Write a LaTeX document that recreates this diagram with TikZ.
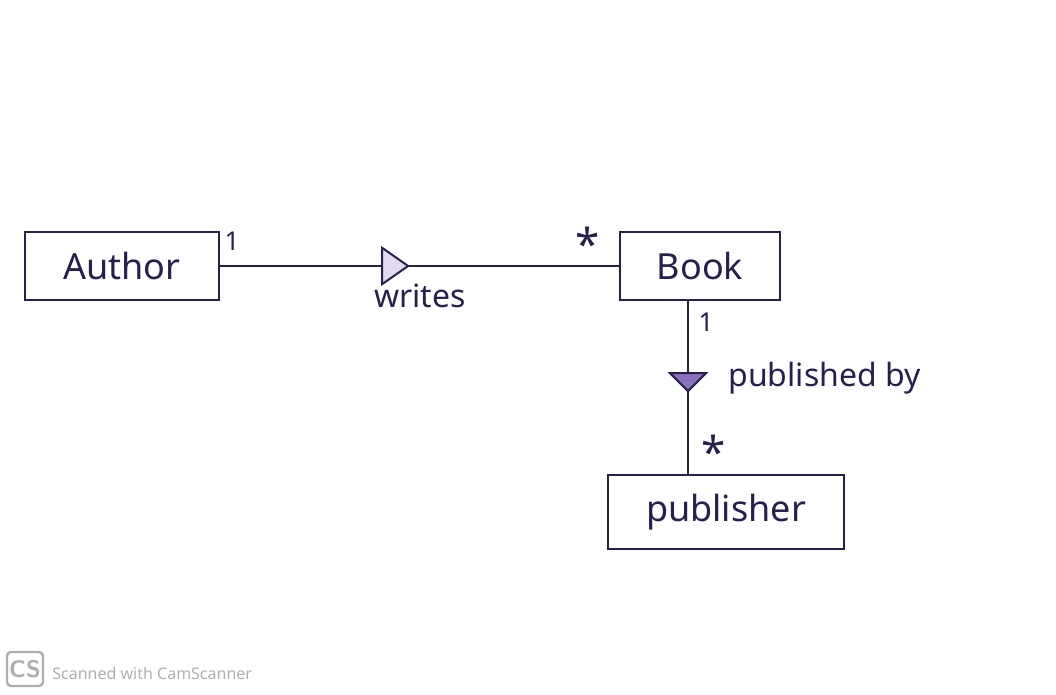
\documentclass[tikz,border=0pt]{standalone}
\usepackage{fontspec}
\setmainfont{Noto Sans}
\usetikzlibrary{shapes.geometric}
\definecolor{inkblue}{RGB}{38,32,78}
\definecolor{inkfill}{RGB}{140,112,190}
\definecolor{scangray}{RGB}{175,175,175}
\begin{document}
\begin{tikzpicture}[x=0.5pt,y=-0.5pt,
    classbox/.style={draw=inkblue, line width=1.1pt, text=inkblue, inner sep=0pt,
      font=\fontsize{18}{22}\selectfont},
    assoc/.style={draw=inkblue, line width=1.1pt},
    mult/.style={text=inkblue, inner sep=1pt, font=\fontsize{13}{15}\selectfont},
    rolename/.style={text=inkblue, inner sep=1pt, font=\fontsize{16}{19}\selectfont},
    dirtri/.style={isosceles triangle, isosceles triangle apex angle=70, draw=inkblue,
      line width=1pt, inner sep=0pt, minimum height=13pt, minimum width=13pt}]
    \useasboundingbox (0,0) rectangle (1056,695);
    % classes
    \node[classbox, minimum width=97pt, minimum height=34pt] (author) at (122,266) {Author};
    \node[classbox, minimum width=80pt, minimum height=34pt] (book) at (700,266) {Book};
    \node[classbox, minimum width=118pt, minimum height=37pt] (publisher) at (726,512) {publisher};
    \coordinate (tap) at (688,400);
    % writes
    \draw[assoc] (author.east) -- coordinate[pos=0.43] (wmid) (book.west);
    \node[dirtri, fill=inkfill!25] (wtri) at (wmid) {};
    \node[rolename] (writes) at (420,296) {writes};
    \node[mult] (m1) at (232,241) {1};
    \node[mult, font=\fontsize{22}{24}\selectfont] (m2) at (588,244) {*};
    % published by
    \draw[assoc] (book.south -| tap) -- coordinate[pos=0.46] (pmid) (publisher.north -| tap);
    \node[dirtri, fill=inkfill, shape border rotate=-90, isosceles triangle apex angle=90,
      minimum height=9pt, minimum width=15pt] (ptri) at (pmid) {};
    \node[rolename, anchor=west] (pubby) at (726,378) {published by};
    \node[mult] (m3) at (706,322) {1};
    \node[mult, font=\fontsize{22}{24}\selectfont] (m4) at (714,452) {*};
    % scanner mark
    \node[draw=scangray, line width=1.2pt, rounded corners=2pt, text=scangray,
      minimum width=18pt, minimum height=17pt, inner sep=0pt,
      font=\sffamily\bfseries\fontsize{12}{12}\selectfont] (cslogo) at (25,669) {CS};
    \node[text=scangray, anchor=west, inner sep=0pt,
      font=\fontsize{8}{9}\selectfont] (cstext) at (52,673) {Scanned with CamScanner};
\end{tikzpicture}
\end{document}
